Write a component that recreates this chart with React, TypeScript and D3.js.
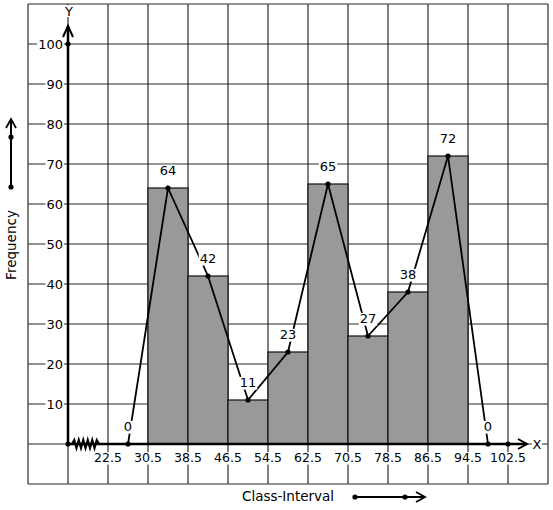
import React from "react";
import * as d3 from "d3";

// ---- data ----
const classStarts = [30.5, 38.5, 46.5, 54.5, 62.5, 70.5, 78.5, 86.5];
const classEnds = [38.5, 46.5, 54.5, 62.5, 70.5, 78.5, 86.5, 94.5];
const frequencies = [64, 42, 11, 23, 65, 27, 38, 72];
const polygonMarks = [26.5, 34.5, 42.5, 50.5, 58.5, 66.5, 74.5, 82.5, 90.5, 98.5];
const polygonFreq = [0, 64, 42, 11, 23, 65, 27, 38, 72, 0];
const xTickValues = [22.5, 30.5, 38.5, 46.5, 54.5, 62.5, 70.5, 78.5, 86.5, 94.5, 102.5];
const xTickLabels = ["22.5", "30.5", "38.5", "46.5", "54.5", "62.5", "70.5", "78.5", "86.5", "94.5", "102.5"];
const yTickValues = [10, 20, 30, 40, 50, 60, 70, 80, 90, 100];
const xOriginValue = 14.5;

const W = 553;
const H = 510;
const FONT = "'DejaVu Sans', sans-serif";

const x = d3.scaleLinear().domain([6.5, 110.5]).range([28, 548]);
const y = d3.scaleLinear().domain([-10, 110]).range([484, 4]);

const charW = (s: string, fs: number) => {
  let w = 0;
  for (const c of s) w += c === "." ? 0.318 : 0.636;
  return w * fs;
};

function BgText({ tx, ty, text, fs, anchor = "middle" }: { tx: number; ty: number; text: string; fs: number; anchor?: string }) {
  const w = charW(text, fs);
  const left = anchor === "end" ? tx - w : anchor === "start" ? tx : tx - w / 2;
  return (
    <g>
      <rect x={left - 1} y={ty - fs * 0.78} width={w + 2} height={fs * 0.98} fill="#fff" />
      <text x={tx} y={ty} fontSize={fs} textAnchor={anchor as any} fontFamily={FONT} fill="#000">
        {text}
      </text>
    </g>
  );
}

export default function App() {
  const vLines = d3.range(6.5, 110.6, 8);
  const hLines = d3.range(-10, 110.1, 10);
  const x0 = x(xOriginValue);
  const y0 = y(0);
  const line = d3
    .line<number>()
    .x((_, i) => x(polygonMarks[i]))
    .y((d) => y(d));

  // zigzag break on x axis
  const zz: [number, number][] = [];
  const zStart = x0 + 4;
  const zEnd = x0 + 31;
  const nZ = 12;
  for (let i = 0; i <= nZ; i++) {
    zz.push([zStart + ((zEnd - zStart) * i) / nZ, y0 + (i === 0 || i === nZ ? 0 : i % 2 ? -4 : 4)]);
  }

  return (
    <svg width={W} height={H} style={{ position: "absolute", left: 0, top: 0, background: "#fff" }}>
      <rect x={0} y={0} width={W} height={H} fill="#fff" />
      {/* grid */}
      <g stroke="#2a2a2a" strokeWidth={1.2}>
        {vLines.map((v) => (
          <line key={"v" + v} x1={x(v)} x2={x(v)} y1={y(110)} y2={y(-10)} />
        ))}
        {hLines.map((v) => (
          <line key={"h" + v} x1={x(6.5)} x2={x(110.5)} y1={y(v)} y2={y(v)} />
        ))}
      </g>
      {/* bars */}
      <g>
        {frequencies.map((f, i) => (
          <rect
            key={i}
            x={x(classStarts[i])}
            y={y(f)}
            width={x(classEnds[i]) - x(classStarts[i])}
            height={y(0) - y(f)}
            fill="#999999"
            stroke="#111"
            strokeWidth={1.2}
          />
        ))}
      </g>
      {/* axes */}
      <g stroke="#000" strokeWidth={2.5} fill="none">
        <line x1={x0} x2={x0} y1={y0} y2={26} />
        <polyline points={`${x0 - 5},37 ${x0},26 ${x0 + 5},37`} strokeWidth={2} />
        <line x1={x0} x2={527} y1={y0} y2={y0} />
        <polyline points={`518,439 527,${y0} 518,449`} strokeWidth={2} />
        <polyline points={zz.map((p) => p.join(",")).join(" ")} strokeWidth={2.2} />
      </g>
      {/* polygon */}
      <path d={line(polygonFreq) || ""} fill="none" stroke="#000" strokeWidth={1.8} />
      {/* dots */}
      <g fill="#000">
        {polygonFreq.map((f, i) => (
          <circle key={i} cx={x(polygonMarks[i])} cy={y(f)} r={2.6} />
        ))}
        <circle cx={x0} cy={y0} r={2.6} />
        <circle cx={x0} cy={y(100)} r={2.6} />
        <circle cx={x(102.5)} cy={y0} r={2.6} />
      </g>
      {/* data labels */}
      {polygonFreq.map((f, i) => (
        <BgText key={"l" + i} tx={x(polygonMarks[i])} ty={y(f) - 13} text={String(f)} fs={13} />
      ))}
      {/* y ticks */}
      {yTickValues.map((v) => (
        <BgText key={"y" + v} tx={63} ty={y(v) + 4.8} text={String(v)} fs={13} anchor="end" />
      ))}
      {/* x ticks */}
      {xTickValues.map((v, i) => (
        <BgText key={"x" + v} tx={x(v)} ty={462} text={xTickLabels[i]} fs={12.5} />
      ))}
      {/* axis letters */}
      <rect x={x0 - 5} y={5} width={11} height={12} fill="#fff" />
      <text x={x0 + 1} y={16} fontSize={13} textAnchor="middle" fontFamily={FONT} fill="#000">Y</text>
      <rect x={532} y={437} width={10} height={13} fill="#fff" />
      <text x={537} y={448.5} fontSize={13} textAnchor="middle" fontFamily={FONT} fill="#000">X</text>
      {/* Frequency label + arrow */}
      <text
        transform={`translate(16,245) rotate(-90)`}
        fontSize={13.5}
        textAnchor="middle"
        fontFamily={FONT}
        fill="#000"
      >
        Frequency
      </text>
      <g stroke="#000" fill="none">
        <line x1={11} x2={11} y1={187} y2={119} strokeWidth={2} />
        <polyline points="6,128 11,119 16,128" strokeWidth={1.8} />
      </g>
      <circle cx={11} cy={187} r={2.6} fill="#000" />
      <circle cx={11} cy={137} r={2.6} fill="#000" />
      {/* Class-Interval label + arrow */}
      <text x={288} y={501} fontSize={13.5} textAnchor="middle" fontFamily={FONT} fill="#000">
        Class-Interval
      </text>
      <g stroke="#000" fill="none">
        <line x1={355} x2={424} y1={497} y2={497} strokeWidth={2} />
        <polyline points="416,492 425,497 416,502" strokeWidth={1.8} />
      </g>
      <circle cx={355} cy={497} r={2.6} fill="#000" />
      <circle cx={405} cy={497} r={2.6} fill="#000" />
    </svg>
  );
}
